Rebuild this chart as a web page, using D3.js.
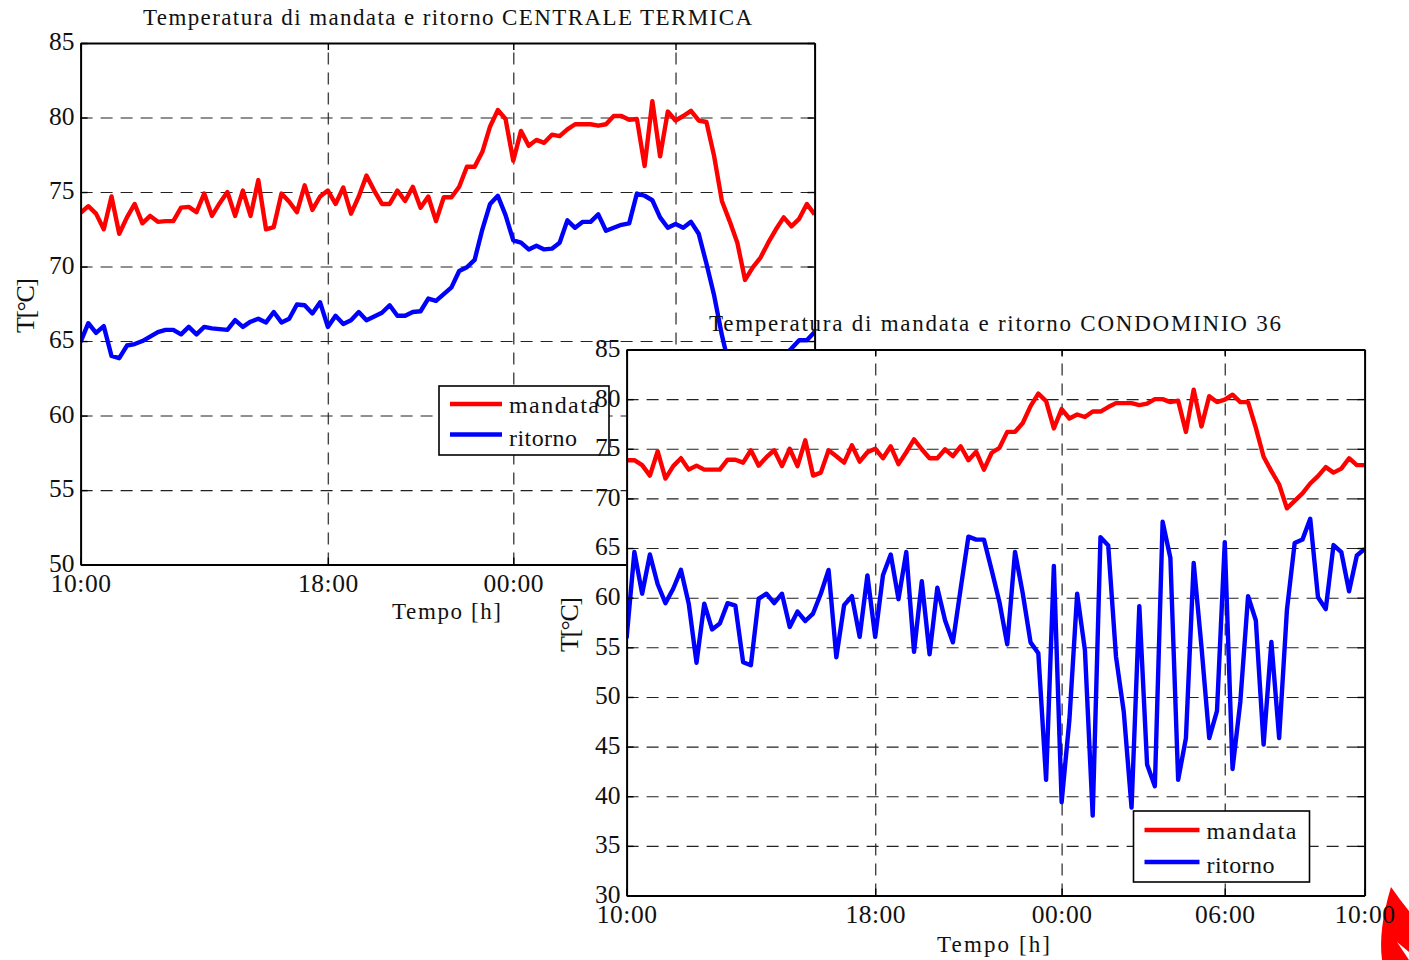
<!DOCTYPE html>
<html>
<head>
<meta charset="utf-8">
<script src="https://cdn.jsdelivr.net/npm/d3@7"></script>
<style>
body { margin: 0; background: #fff; }
text { font-family: "Liberation Serif", serif; fill: #111; }
</style>
</head>
<body>
<svg id="basicSVG" width="1409" height="960"></svg>
<script>
// quarter-hour samples, 0..95
var timeTicks = [0, 32, 56, 77, 95];
var timeLabels = ["10:00", "18:00", "00:00", "06:00", "10:00"];
var seriesNames = ["mandata", "ritorno"];
var yTicksCentrale = [50, 55, 60, 65, 70, 75, 80, 85];
var yTicksCondominio = [30, 35, 40, 45, 50, 55, 60, 65, 70, 75, 80, 85];

var mandataCentrale = [
	73.6, 74.05, 73.55, 72.5, 74.7, 72.2, 73.3, 74.2, 72.9, 73.4, 73.0, 73.05,
	73.05, 73.95, 74.0, 73.65, 74.9, 73.4, 74.25, 75.0, 73.4, 75.1, 73.4, 75.8,
	72.5, 72.65, 74.9, 74.35, 73.65, 75.45, 73.8, 74.7, 75.1, 74.2, 75.3, 73.55,
	74.7, 76.1, 75.1, 74.2, 74.2, 75.1, 74.4, 75.35, 73.95, 74.7, 73.05, 74.65,
	74.65, 75.35, 76.7, 76.7, 77.7, 79.4, 80.5, 79.9, 77.1, 79.1, 78.1, 78.5,
	78.3, 78.85, 78.75, 79.2, 79.55, 79.55, 79.55, 79.45, 79.55, 80.1, 80.1, 79.85,
	79.9, 76.75, 81.1, 77.4, 80.4, 79.8, 80.1, 80.45, 79.8, 79.7, 77.4, 74.4,
	73.05, 71.6, 69.1, 69.95, 70.6, 71.6, 72.5, 73.3, 72.7, 73.2, 74.2, 73.5
];
// from 84 to 91 the line is hidden behind the second chart, estimated
var ritornoCentrale = [
	64.95, 66.2, 65.55, 66.0, 64.0, 63.85, 64.7, 64.8, 65.0, 65.3, 65.6, 65.75,
	65.75, 65.45, 65.95, 65.45, 65.95, 65.85, 65.8, 65.75, 66.4, 65.95, 66.3, 66.5,
	66.25, 66.95, 66.25, 66.5, 67.45, 67.4, 66.85, 67.6, 65.95, 66.7, 66.15, 66.4,
	66.95, 66.4, 66.65, 66.9, 67.4, 66.7, 66.7, 66.95, 67.0, 67.85, 67.7, 68.15,
	68.6, 69.7, 69.95, 70.45, 72.5, 74.2, 74.75, 73.45, 71.75, 71.6, 71.15, 71.4,
	71.15, 71.2, 71.6, 73.1, 72.6, 73.0, 73.0, 73.5, 72.4, 72.6, 72.8, 72.9,
	74.9, 74.75, 74.45, 73.3, 72.6, 72.85, 72.6, 73.0, 72.2, 70.2, 68.05, 65.4,
	63.2, 62.0, 60.5, 61.0, 61.5, 62.5, 63.3, 64.0, 64.5, 65.05, 65.05, 65.6
];
var mandataCondominio = [
	73.85, 73.85, 73.35, 72.3, 74.75, 72.0, 73.25, 74.05, 72.9, 73.3, 72.9, 72.9,
	72.9, 73.9, 73.9, 73.6, 74.85, 73.3, 74.15, 74.85, 73.25, 75.0, 73.25, 75.85,
	72.3, 72.6, 74.85, 74.25, 73.6, 75.35, 73.7, 74.65, 75.0, 74.05, 75.25, 73.45,
	74.65, 75.95, 74.95, 74.05, 74.05, 74.95, 74.25, 75.25, 73.85, 74.7, 72.9, 74.6,
	75.1, 76.7, 76.7, 77.6, 79.3, 80.55, 79.8, 77.05, 79.0, 78.05, 78.45, 78.2,
	78.75, 78.75, 79.2, 79.6, 79.6, 79.6, 79.4, 79.55, 80.0, 80.0, 79.7, 79.85,
	76.7, 80.95, 77.25, 80.3, 79.7, 79.95, 80.45, 79.7, 79.7, 77.1, 74.2, 72.75,
	71.4, 69.0, 69.75, 70.5, 71.5, 72.25, 73.15, 72.6, 73.0, 74.05, 73.35, 73.35
];
var ritornoCondominio = [
	55.9, 64.6, 60.4, 64.35, 61.35, 59.45, 60.9, 62.8, 59.4, 53.45, 59.4, 56.8,
	57.4, 59.45, 59.2, 53.5, 53.2, 59.9, 60.4, 59.45, 60.4, 57.05, 58.6, 57.65,
	58.4, 60.4, 62.8, 54.0, 59.25, 60.15, 56.05, 62.25, 56.05, 62.25, 64.35, 59.85,
	64.6, 54.55, 61.65, 54.3, 61.0, 57.7, 55.5, 60.9, 66.15, 65.85, 65.85, 62.75,
	59.55, 55.3, 64.6, 60.4, 55.5, 54.4, 41.65, 63.2, 39.4, 47.7, 60.4, 54.7,
	38.05, 66.1, 65.25, 54.05, 48.5, 38.85, 59.15, 43.2, 41.0, 67.65, 64.0, 41.65,
	45.85, 63.5, 55.05, 45.85, 48.6, 65.6, 42.75, 49.5, 60.15, 57.7, 45.2, 55.55,
	45.85, 58.75, 65.5, 65.85, 67.95, 60.05, 58.85, 65.3, 64.6, 60.65, 64.25, 64.9
];

var svg = d3.select("#basicSVG");

function fittedText(g, str, x, y, len, size)
{
	return g.append("text").text(str).attr("x", x).attr("y", y)
		.attr("font-size", size)
		.attr("textLength", len)
		.attr("lengthAdjust", "spacing");
}

function styleGrid(g, color, width)
{
	g.select(".domain").remove();
	g.selectAll("line").attr("stroke", color).attr("stroke-width", width).attr("stroke-dasharray", "12,8");
}

function drawChart(cfg)
{
	var g = svg.append("g");
	var w = cfg.x1 - cfg.x0, h = cfg.y1 - cfg.y0;
	var plot = g.append("g").attr("transform", "translate(" + cfg.x0 + "," + cfg.y0 + ")");

	var x = d3.scaleLinear().domain([0, 95]).range([0, w]);
	var y = d3.scaleLinear().domain(cfg.yDomain).range([h, 0]);

	plot.append("rect").attr("width", w).attr("height", h).attr("fill", "#fff");

	// dashed grid
	var gx = plot.append("g").attr("transform", "translate(0," + h + ")")
		.call(d3.axisBottom(x).tickValues(timeTicks.slice(1, 4)).tickSize(-h).tickFormat(""));
	styleGrid(gx, "#444", 1.4);
	var gy = plot.append("g")
		.call(d3.axisLeft(y).tickValues(cfg.yTicks.slice(1, -1)).tickSize(-w).tickFormat(""));
	styleGrid(gy, "#222", 1.1);

	// curves
	var line = d3.line().x(function(d, i) { return x(i); }).y(function(d) { return y(d); });
	var clipId = "clip" + cfg.id;
	plot.append("clipPath").attr("id", clipId).append("rect").attr("width", w + 2).attr("height", h);
	[[cfg.mandata, "#ff0000"], [cfg.ritorno, "#0000ff"]].forEach(function(s)
	{
		plot.append("path").datum(s[0]).attr("d", line)
			.attr("clip-path", "url(#" + clipId + ")")
			.attr("fill", "none").attr("stroke", s[1])
			.attr("stroke-width", 4.4).attr("stroke-linejoin", "round");
	});

	// box and ticks on the four sides
	var axes = [
		[d3.axisBottom(x).tickValues(timeTicks).tickFormat(function(d, i) { return timeLabels[i]; }), 0, h],
		[d3.axisTop(x).tickValues(timeTicks).tickFormat(""), 0, 0],
		[d3.axisLeft(y).tickValues(cfg.yTicks), 0, 0],
		[d3.axisRight(y).tickValues(cfg.yTicks).tickFormat(""), w, 0]
	];
	axes.forEach(function(a, k)
	{
		var ag = plot.append("g").attr("transform", "translate(" + a[1] + "," + a[2] + ")")
			.call(a[0].tickSizeInner(-7).tickSizeOuter(0).tickPadding(k == 2 ? 6 : 9));
		ag.selectAll(".domain").attr("stroke", "#000").attr("stroke-width", 2);
		ag.selectAll("line").attr("stroke", "#000").attr("stroke-width", 1.4);
		ag.selectAll("text").attr("font-size", 25.5).attr("font-family", "Liberation Serif").attr("fill", "#111");
		if(k == 0) ag.selectAll("text").attr("letter-spacing", 0.5);
		if(k == 2) ag.selectAll("text").attr("dy", "0.27em");
	});

	// titles
	fittedText(g, cfg.title, cfg.titleX, cfg.titleY, cfg.titleLen, 23);
	fittedText(g, "Tempo [h]", cfg.xLabelX, cfg.xLabelY, cfg.xLabelLen, 23);
	g.append("text").text("T[°C]")
		.attr("transform", "translate(" + cfg.yLabelX + "," + cfg.yLabelY + ") rotate(-90)")
		.attr("font-size", 26).attr("textLength", 55).attr("lengthAdjust", "spacing");

	// legend
	var lg = g.append("g").attr("transform", "translate(" + cfg.legX + "," + cfg.legY + ")");
	lg.append("rect").attr("width", cfg.legW).attr("height", cfg.legH)
		.attr("fill", "#fff").attr("stroke", "#000").attr("stroke-width", 1.6);
	seriesNames.forEach(function(name, i)
	{
		var rowY = cfg.legRow0 + i * cfg.legRowGap;
		lg.append("line").attr("x1", 11).attr("x2", 11 + cfg.legLine)
			.attr("y1", rowY).attr("y2", rowY)
			.attr("stroke", i == 0 ? "#ff0000" : "#0000ff").attr("stroke-width", 4.4);
		fittedText(lg, name, 17 + cfg.legLine + 1, rowY + (i == 0 ? 9.3 : 11.2), i == 0 ? 90 : 68, 24);
	});
	return g;
}

drawChart({
	id: 1, x0: 80.6, x1: 814.6, y0: 43, y1: 564.6,
	yDomain: [50, 85], yTicks: yTicksCentrale,
	mandata: mandataCentrale, ritorno: ritornoCentrale,
	title: "Temperatura di mandata e ritorno CENTRALE TERMICA",
	titleX: 143, titleY: 25, titleLen: 609,
	xLabelX: 392, xLabelY: 619, xLabelLen: 109,
	yLabelX: 34, yLabelY: 333,
	legX: 439, legY: 386, legW: 170, legH: 69, legRow0: 18, legRowGap: 30.5, legLine: 52
});

drawChart({
	id: 2, x0: 626.6, x1: 1364.6, y0: 349.5, y1: 895.5,
	yDomain: [30, 85], yTicks: yTicksCondominio,
	mandata: mandataCondominio, ritorno: ritornoCondominio,
	title: "Temperatura di mandata e ritorno CONDOMINIO 36",
	titleX: 709, titleY: 331, titleLen: 572,
	xLabelX: 937, xLabelY: 952, xLabelLen: 113,
	yLabelX: 578, yLabelY: 652,
	legX: 1133.5, legY: 811, legW: 176, legH: 71, legRow0: 19, legRowGap: 32, legLine: 55
});

// corner of a red logo cut by the page edge, under the last tick label
svg.insert("path", "g")
	.attr("d", "M1391,887 Q1400,900 1409,911 L1409,960 L1382,960 Q1378,930 1391,887 Z")
	.attr("fill", "#ff0000");
svg.insert("path", "g:nth-of-type(1)")
	.attr("d", "M1397,942 L1409,952 L1409,960 Z")
	.attr("fill", "#fff");
</script>
</body>
</html>
